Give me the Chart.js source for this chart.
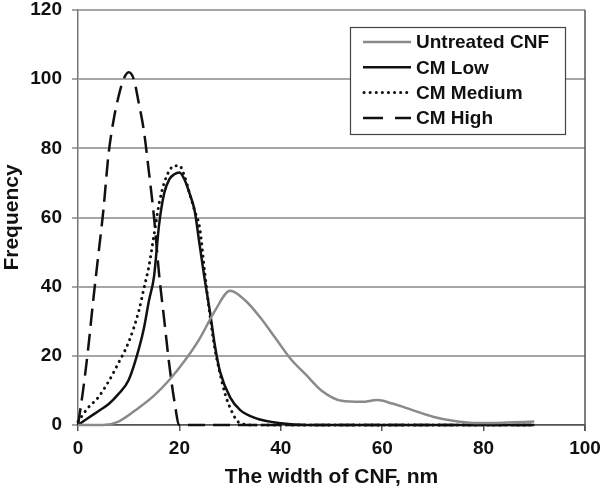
<!DOCTYPE html>
<html>
<head>
<meta charset="utf-8">
<script src="https://cdn.jsdelivr.net/npm/chart.js@4/dist/chart.umd.min.js"></script>
<style>
  html, body { margin: 0; padding: 0; background: #fff; }
  #wrap { width: 603px; height: 488px; }
</style>
</head>
<body>
<div id="wrap"><canvas id="widthChart"></canvas></div>
<script>
const xTicks = [0, 20, 40, 60, 80, 100];
const yTicks = [0, 20, 40, 60, 80, 100, 120];

const untreatedX = [0, 5, 8, 12, 15, 18, 21, 24, 27, 30, 33, 36, 39, 42, 45, 48, 52, 56, 59, 62, 66, 70, 74, 78, 82, 86, 90];
const untreatedY = [0, 0, 1, 5, 8.5, 13, 18.5, 25, 33, 38.8, 36, 31, 25, 19, 14.5, 10, 7, 6.7, 7.2, 6.2, 4.3, 2.4, 1.2, 0.6, 0.6, 0.8, 1];

const lowX = [0, 2, 4, 6, 8, 10, 12, 13, 14, 15, 16, 17, 18, 19, 20, 21, 22, 23, 24, 25, 26, 27, 28, 30, 32, 35, 40, 45, 90];
const lowY = [0, 2, 4, 6, 9, 13, 22, 28, 36, 43, 58, 67, 71, 72.5, 73, 71, 67, 62, 52, 42, 33, 23, 15.5, 8, 4.3, 2, 0.5, 0, 0];

const mediumX = [0, 2, 4, 6, 8, 10, 12, 13, 14, 15, 16, 17, 18, 19, 20, 21, 22, 23, 24, 25, 26, 27, 28, 29, 30, 31, 32, 35, 90];
const mediumY = [1, 5, 8, 12.5, 18, 24, 33, 39.5, 46, 55, 64, 70, 73.5, 75, 75, 72, 67, 62, 57, 44, 32, 22, 15, 9, 5, 2, 0.5, 0, 0];

const highX = [0, 1, 2, 3, 4, 5, 6, 7, 8, 9, 10, 11, 12, 13, 14, 15, 16, 17, 18, 19, 20, 25, 90];
const highY = [0, 10, 22, 36, 49, 62, 78, 88, 95, 100, 102, 100, 93, 85, 73, 60, 43.5, 30.5, 17.5, 7, 0, 0, 0];

const toPoints = (xs, ys) => xs.map((x, i) => ({ x: x, y: ys[i] }));

const fontStack = 'Arial, "Liberation Sans", Helvetica, sans-serif';

// legend box drawn inside the plot area, like the original
const boxLegend = {
  id: 'boxLegend',
  afterDraw(chart) {
    const ctx = chart.ctx;
    const left = 350, top = 27, w = 215, h = 107;
    ctx.save();
    ctx.fillStyle = '#fff';
    ctx.fillRect(left, top, w, h);
    ctx.strokeStyle = '#444';
    ctx.lineWidth = 1.2;
    ctx.strokeRect(left + 0.5, top + 0.5, w, h);
    ctx.font = 'bold 19px ' + fontStack;
    ctx.textBaseline = 'middle';
    chart.data.datasets.forEach((ds, i) => {
      const y = 42 + i * 25.3;
      ctx.strokeStyle = ds.borderColor;
      ctx.lineWidth = ds.borderWidth;
      ctx.lineCap = ds.borderCapStyle || 'butt';
      ctx.setLineDash(i === 3 ? [20, 12] : (ds.borderDash || []));
      ctx.beginPath();
      ctx.moveTo(i === 2 ? 364 : 363, y);
      ctx.lineTo(411, y);
      ctx.stroke();
      ctx.setLineDash([]);
      ctx.fillStyle = '#111';
      ctx.fillText(ds.label, 416, y + 1);
    });
    ctx.restore();
  }
};

// dark frame on the right of the plot area
const rightFrame = {
  id: 'rightFrame',
  beforeDatasetsDraw(chart) {
    const a = chart.chartArea;
    const ctx = chart.ctx;
    ctx.save();
    ctx.strokeStyle = '#555';
    ctx.lineWidth = 1.5;
    ctx.beginPath();
    ctx.moveTo(a.right, a.top);
    ctx.lineTo(a.right, a.bottom + 6);
    ctx.stroke();
    ctx.restore();
  }
};

new Chart(document.getElementById('widthChart'), {
  type: 'line',
  data: {
    datasets: [
      {
        label: 'Untreated CNF',
        data: toPoints(untreatedX, untreatedY),
        borderColor: '#8a8a8a',
        borderWidth: 2.5
      },
      {
        label: 'CM Low',
        data: toPoints(lowX, lowY),
        borderColor: '#111',
        borderWidth: 2.5
      },
      {
        label: 'CM Medium',
        data: toPoints(mediumX, mediumY),
        borderColor: '#111',
        borderWidth: 3,
        borderDash: [0.1, 6],
        borderCapStyle: 'round'
      },
      {
        label: 'CM High',
        data: toPoints(highX, highY),
        borderColor: '#111',
        borderWidth: 2.5,
        borderDash: [17, 8]
      }
    ]
  },
  options: {
    responsive: true,
    maintainAspectRatio: false,
    animation: false,
    layout: { padding: { top: 10, right: 18, left: 0, bottom: 0 } },
    elements: {
      point: { radius: 0 },
      line: { cubicInterpolationMode: 'monotone', fill: false }
    },
    datasets: { line: { clip: 6 } },
    scales: {
      x: {
        type: 'linear',
        min: 0,
        max: 100,
        afterBuildTicks: (scale) => { scale.ticks = xTicks.map((v) => ({ value: v })); },
        afterFit: (scale) => {
          scale.height = 63;
          scale.paddingRight = 0;
        },
        grid: {
          drawOnChartArea: false,
          drawTicks: true,
          tickLength: 6,
          color: '#555',
          lineWidth: 1.5
        },
        border: { color: '#555', width: 1.5 },
        ticks: {
          color: '#111',
          padding: 6,
          maxRotation: 0,
          font: { family: fontStack, size: 19, weight: 'bold' }
        },
        title: {
          display: true,
          text: 'The width of CNF, nm',
          color: '#111',
          padding: { top: 0, bottom: -2 },
          font: { family: fontStack, size: 21, weight: 'bold' }
        }
      },
      y: {
        type: 'linear',
        min: 0,
        max: 120,
        afterBuildTicks: (scale) => { scale.ticks = yTicks.map((v) => ({ value: v })); },
        afterFit: (scale) => {
          scale.width = 78;
          scale.paddingTop = 0;
          scale.paddingBottom = 0;
        },
        grid: {
          color: '#a6a6a6',
          lineWidth: 2,
          drawTicks: true,
          tickLength: 6
        },
        border: { color: '#777', width: 1.5 },
        ticks: {
          color: '#111',
          padding: 10,
          font: { family: fontStack, size: 19, weight: 'bold' }
        },
        title: {
          display: true,
          text: 'Frequency',
          color: '#111',
          padding: { top: 0, bottom: 0 },
          font: { family: fontStack, size: 21, weight: 'bold' }
        }
      }
    },
    plugins: {
      legend: { display: false },
      tooltip: { enabled: false }
    }
  },
  plugins: [rightFrame, boxLegend]
});
</script>
</body>
</html>
